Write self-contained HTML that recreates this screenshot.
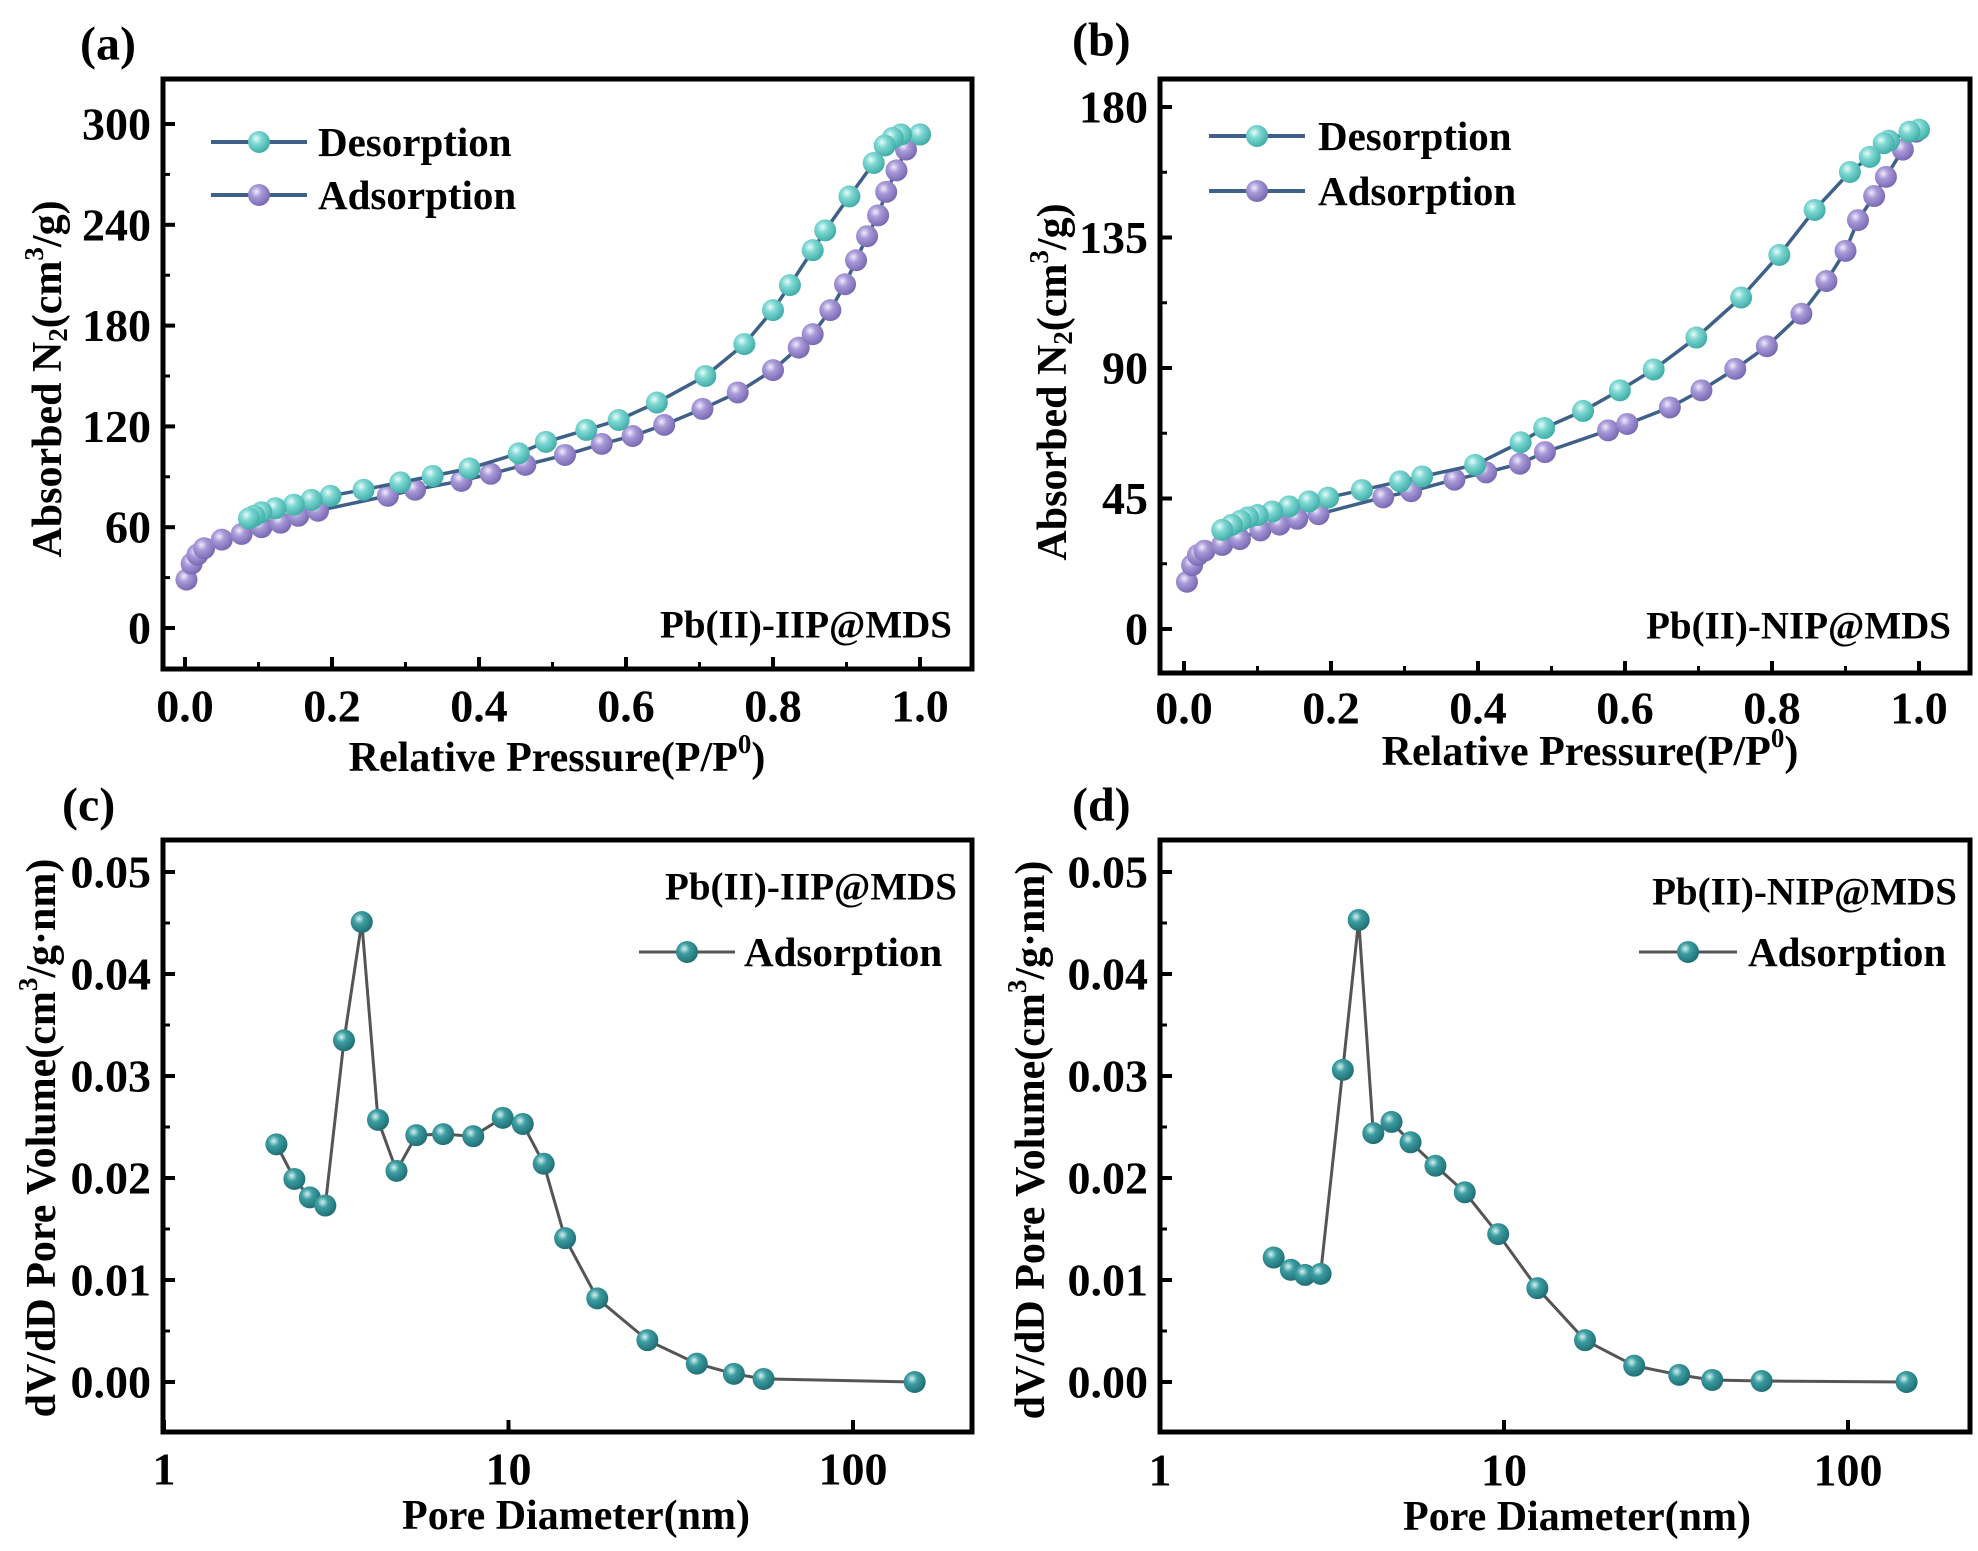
<!DOCTYPE html>
<html><head><meta charset="utf-8"><style>
html,body{margin:0;padding:0;background:#fff;}
svg{display:block;font-family:"Liberation Serif",serif;font-weight:bold;}
</style></head><body>
<svg id="fig" width="1978" height="1551" viewBox="0 0 1978 1551" xmlns="http://www.w3.org/2000/svg">
<defs>
<radialGradient id="gT" cx="0.38" cy="0.35" r="0.7"><stop offset="0" stop-color="#e8fbfa"/><stop offset="0.35" stop-color="#7fd8d3"/><stop offset="1" stop-color="#3aa9a4"/></radialGradient>
<radialGradient id="gP" cx="0.38" cy="0.35" r="0.7"><stop offset="0" stop-color="#f0ecfb"/><stop offset="0.35" stop-color="#a99ad8"/><stop offset="1" stop-color="#7464b0"/></radialGradient>
<radialGradient id="gD" cx="0.38" cy="0.35" r="0.7"><stop offset="0" stop-color="#d6f1f1"/><stop offset="0.35" stop-color="#3c9ea2"/><stop offset="1" stop-color="#1d6a70"/></radialGradient>
</defs>
</svg>
<script>
// Panel (a) data
const aAdsX=[0.002,0.009,0.017,0.026,0.05,0.077,0.104,0.13,0.154,0.181,0.276,0.313,0.376,0.416,0.463,0.517,0.567,0.609,0.652,0.704,0.752,0.8,0.835,0.854,0.878,0.898,0.913,0.928,0.943,0.954,0.968,0.981,1.0];
const aAdsY=[28.8,38.3,43.7,47.5,52.6,56,60,62.7,66.8,69.8,78.7,82.3,87.6,91.8,97.1,103,109.6,114.3,120.9,130.4,140.2,153.5,166.9,174.9,189.2,204.6,218.9,233.2,245.6,259.6,272.4,284.8,293.8];
const aDesX=[1.0,0.974,0.963,0.952,0.937,0.904,0.871,0.854,0.823,0.8,0.761,0.708,0.642,0.59,0.546,0.491,0.454,0.387,0.337,0.293,0.243,0.198,0.172,0.148,0.123,0.104,0.094,0.087];
const aDesY=[293.8,293.8,291.7,287.2,276.8,256.9,236.7,224.9,204.1,189.2,169,150,134.2,123.8,117.9,110.8,104,95,90.5,86.7,82.3,78.7,76.3,73.4,71.3,68.9,66.8,65.3];
// Panel (b) data
const bAdsX=[0.004,0.011,0.019,0.028,0.052,0.076,0.104,0.13,0.154,0.183,0.271,0.309,0.368,0.411,0.457,0.491,0.577,0.603,0.661,0.704,0.75,0.793,0.84,0.874,0.9,0.917,0.939,0.955,0.978,0.996];
const bAdsY=[16.3,22,25.5,27,29,31,34,36,38,39.6,45.4,47.5,51.5,54,57,61,68.5,70.7,76.4,82.3,89.7,97.5,108.7,120,130.4,141,149.3,155.9,165.3,171.5];
const bDesX=[1.0,0.987,0.959,0.952,0.933,0.906,0.858,0.81,0.758,0.697,0.639,0.593,0.543,0.49,0.458,0.396,0.324,0.294,0.242,0.196,0.17,0.143,0.12,0.1,0.087,0.077,0.065,0.052];
const bDesY=[172.2,171.5,168.4,167.5,162.8,157.6,144.5,129,114.3,100.5,89.5,82.3,75.2,69.3,64.4,56.6,52.6,50.9,47.9,45.3,44,42.3,40.5,39.3,38.5,37.3,35.9,34.2];
// Panel (c) data
const cX=[2.12,2.39,2.65,2.94,3.33,3.75,4.18,4.73,5.40,6.46,7.9,9.62,11.0,12.65,14.6,18.1,25.3,35.2,45.1,55,151];
const cY=[0.0233,0.0199,0.0181,0.0173,0.0335,0.0451,0.0257,0.0207,0.0242,0.0243,0.0241,0.0259,0.0253,0.0214,0.0141,0.0082,0.0041,0.0018,0.0008,0.0003,0.0];
// Panel (d) data
const dX=[2.14,2.40,2.64,2.93,3.40,3.78,4.17,4.71,5.35,6.32,7.69,9.62,12.5,17.2,23.9,32.3,40.3,56.1,148];
const dY=[0.0122,0.0110,0.0105,0.0106,0.0306,0.0453,0.0244,0.0255,0.0235,0.0212,0.0186,0.0145,0.0092,0.0041,0.0016,0.0007,0.0002,0.0001,0.0];
// Tick labels
const abXTicks=[0,0.2,0.4,0.6,0.8,1.0];
const aYTicks=[0,60,120,180,240,300];
const bYTicks=[0,45,90,135,180];
const cdYTicks=[0,0.01,0.02,0.03,0.04,0.05];
const cdXTicks=[1,10,100];

const NS='http://www.w3.org/2000/svg';
const svg=document.getElementById('fig');
function mk(tag,attrs,parent){const e=document.createElementNS(NS,tag);for(const k in attrs)e.setAttribute(k,attrs[k]);(parent||svg).appendChild(e);return e;}
function txt(s,x,y,size,anchor,parent){const t=mk('text',{x:x,y:y,'font-size':size,'text-anchor':anchor||'middle','dominant-baseline':'central',fill:'#000'},parent);t.textContent=s;return t;}

function panel(p){
  const g=mk('g',{});
  
  
  const xs=v=>p.log? p.x0px+(Math.log10(v)-Math.log10(p.x0))*(p.x1px-p.x0px)/(Math.log10(p.x1)-Math.log10(p.x0)) : p.x0px+(v-p.x0)*(p.x1px-p.x0px)/(p.x1-p.x0);
  const ys=v=>p.y0px+(v-p.y0)*(p.y1px-p.y0px)/(p.y1-p.y0);
  const tg=mk('g',{},g);
  
  
  p.xt.forEach((v,i)=>{const x=xs(v);
    mk('line',{x1:x,x2:x,y1:p.fb,y2:p.fb-12,stroke:'#000','stroke-width':4},tg);
    const l=txt(p.log?String(v):v.toFixed(1),x,p.xly,46,'middle',tg);
    
    
    if(!p.log&&i<p.xt.length-1){const xm=xs(v+0.1);mk('line',{x1:xm,x2:xm,y1:p.fb,y2:p.fb-7,stroke:'#000','stroke-width':3},tg);}
  });
  const yg=mk('g',{},g);
  
  
  p.yt.forEach((v,i)=>{const y=ys(v);
    mk('line',{x1:p.fl,x2:p.fl+12,y1:y,y2:y,stroke:'#000','stroke-width':4},yg);
    const l=txt(p.ytl(v),p.fl-12,y,46,'end',yg);
    
    
    if(i<p.yt.length-1){const ym=ys(v+(p.yt[1]-p.yt[0])/2);mk('line',{x1:p.fl,x2:p.fl+7,y1:ym,y2:ym,stroke:'#000','stroke-width':3},yg);}
  });
  p.series.forEach(s=>{
    const sg=mk('g',{},g);
    
    
    const pts=s.x.map((v,i)=>xs(v).toFixed(1)+','+ys(s.y[i]).toFixed(1)).join(' ');
    mk('polyline',{points:pts,fill:'none',stroke:s.line,'stroke-width':s.lw},sg);
    s.x.forEach((v,i)=>{const c=mk('circle',{cx:xs(v),cy:ys(s.y[i]),r:s.r,fill:s.grad},sg);
      
      });
  });
  const fr=mk('rect',{x:p.fl,y:p.ft,width:p.fr-p.fl,height:p.fb-p.ft,fill:'none',stroke:'#000','stroke-width':5},g);
  
  
  p.legend.forEach(L=>{
    const lg=mk('g',{},g);
    
    
    mk('line',{x1:L.x1,x2:L.x2,y1:L.y,y2:L.y,stroke:L.line,'stroke-width':L.lw},lg);
    mk('circle',{cx:(L.x1+L.x2)/2,cy:L.y,r:L.r,fill:L.grad},lg);
    txt(L.t,L.tx,L.y,41,'start',lg);
  });
  const s=txt(p.sample,p.sx,p.sy,39,'end',g);
  
  
  const pl=txt(p.label,p.lx,p.ly,48,'start',g);
  
  
  const xt=mk('text',{x:p.xtx,y:p.xty,'font-size':42,'text-anchor':'middle','dominant-baseline':'central'},g);
  
  
  xt.innerHTML=p.xtitle;
  const yt=mk('text',{x:0,y:0,'font-size':42,'text-anchor':'middle','dominant-baseline':'central',transform:`translate(${p.ytx},${p.yty}) rotate(-90)`},g);
  
  
  yt.innerHTML=p.ytitle;
}
const RP='Relative Pressure(P/P<tspan dy="-14" font-size="27">0</tspan><tspan dy="14">)</tspan>';
const AB='Absorbed N<tspan dy="10" font-size="27">2</tspan><tspan dy="-10">(cm</tspan><tspan dy="-14" font-size="27">3</tspan><tspan dy="14">/g)</tspan>';
const PV='dV/dD Pore Volume(cm<tspan dy="-14" font-size="27">3</tspan><tspan dy="14">/g·nm)</tspan>';
const lineA='#3e6089';
panel({name:'panel-a',log:false,x0:0,x1:1,x0px:185,x1px:920,y0:0,y1:300,y0px:628,y1px:124,fl:163,fr:972,ft:79,fb:669,
  xt:abXTicks,yt:aYTicks,ytl:v=>String(v),xly:706,
  series:[{name:'adsorption-series',x:aAdsX,y:aAdsY,line:lineA,lw:3.5,r:11,grad:'url(#gP)'},{name:'desorption-series',x:aDesX,y:aDesY,line:lineA,lw:3.5,r:11,grad:'url(#gT)'}],
  legend:[{x1:211,x2:307,y:142,line:lineA,lw:4,r:11,grad:'url(#gT)',t:'Desorption',tx:318},{x1:211,x2:307,y:195,line:lineA,lw:4,r:11,grad:'url(#gP)',t:'Adsorption',tx:318}],
  sample:'Pb(II)-IIP@MDS',sx:952,sy:625,label:'(a)',lx:80,ly:44,xtitle:RP,xtx:557,xty:758,ytitle:AB,ytx:48,yty:379});
panel({name:'panel-b',log:false,x0:0,x1:1,x0px:1184,x1px:1919,y0:0,y1:180,y0px:629,y1px:107,fl:1160,fr:1970,ft:79,fb:673,
  xt:abXTicks,yt:bYTicks,ytl:v=>String(v),xly:708,
  series:[{name:'adsorption-series',x:bAdsX,y:bAdsY,line:lineA,lw:3.5,r:11,grad:'url(#gP)'},{name:'desorption-series',x:bDesX,y:bDesY,line:lineA,lw:3.5,r:11,grad:'url(#gT)'}],
  legend:[{x1:1209,x2:1305,y:136,line:lineA,lw:4,r:11,grad:'url(#gT)',t:'Desorption',tx:1318},{x1:1209,x2:1305,y:191,line:lineA,lw:4,r:11,grad:'url(#gP)',t:'Adsorption',tx:1318}],
  sample:'Pb(II)-NIP@MDS',sx:1951,sy:626,label:'(b)',lx:1072,ly:40,xtitle:RP,xtx:1590,xty:752,ytitle:AB,ytx:1053,yty:382});
panel({name:'panel-c',log:true,x0:1,x1:100,x0px:164,x1px:853,y0:0,y1:0.05,y0px:1382,y1px:872,fl:163,fr:972,ft:840,fb:1432,
  xt:cdXTicks,yt:cdYTicks,ytl:v=>v.toFixed(2),xly:1469,
  series:[{name:'adsorption-series',x:cX,y:cY,line:'#555',lw:3,r:11,grad:'url(#gD)'}],
  legend:[{x1:639,x2:735,y:952,line:'#555',lw:3,r:11,grad:'url(#gD)',t:'Adsorption',tx:744}],
  sample:'Pb(II)-IIP@MDS',sx:957,sy:887,label:'(c)',lx:62,ly:805,xtitle:'Pore Diameter(nm)',xtx:576,xty:1516,ytitle:PV,ytx:42,yty:1138});
panel({name:'panel-d',log:true,x0:1,x1:100,x0px:1160,x1px:1848,y0:0,y1:0.05,y0px:1382,y1px:872,fl:1160,fr:1970,ft:840,fb:1432,
  xt:cdXTicks,yt:cdYTicks,ytl:v=>v.toFixed(2),xly:1470,
  series:[{name:'adsorption-series',x:dX,y:dY,line:'#555',lw:3,r:11,grad:'url(#gD)'}],
  legend:[{x1:1639,x2:1737,y:952,line:'#555',lw:3,r:11,grad:'url(#gD)',t:'Adsorption',tx:1748}],
  sample:'Pb(II)-NIP@MDS',sx:1957,sy:892,label:'(d)',lx:1072,ly:805,xtitle:'Pore Diameter(nm)',xtx:1577,xty:1517,ytitle:PV,ytx:1031,yty:1140});
</script>
</body></html>
